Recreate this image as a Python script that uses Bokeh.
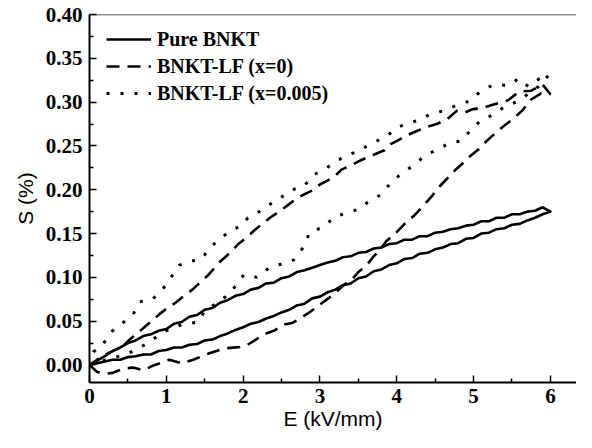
from bokeh.plotting import figure
from bokeh.models import FixedTicker, NumeralTickFormatter, Range1d, Span, Legend, LegendItem
from bokeh.embed import file_html
from bokeh.resources import INLINE

# ---------------- data ----------------
x_ticks = [0, 1, 2, 3, 4, 5, 6]
x_minor = [0.5, 1.5, 2.5, 3.5, 4.5, 5.5]
y_ticks = [0.00, 0.05, 0.10, 0.15, 0.20, 0.25, 0.30, 0.35, 0.40]
y_minor = [-0.025, 0.025, 0.075, 0.125, 0.175, 0.225, 0.275, 0.325, 0.375]

series_names = ["Pure BNKT", "BNKT-LF (x=0)", "BNKT-LF (x=0.005)"]

# Pure BNKT, loading branch
pure_up_E = [0.00, 0.10, 0.20, 0.30, 0.40, 0.50, 0.60, 0.70, 0.80, 0.90, 1.00, 1.10, 1.20, 1.30,
             1.40, 1.50, 1.60, 1.70, 1.80, 1.90, 2.00, 2.10, 2.20, 2.30, 2.40, 2.50, 2.60, 2.70,
             2.80, 2.90, 3.00, 3.10, 3.20, 3.30, 3.40, 3.50, 3.60, 3.70, 3.80, 3.90, 4.00, 4.10,
             4.20, 4.30, 4.40, 4.50, 4.60, 4.70, 4.80, 4.90, 5.00, 5.10, 5.20, 5.30, 5.40, 5.50,
             5.60, 5.70, 5.80, 5.90, 6.00]
pure_up_S = [0.000, 0.002, 0.004, 0.006, 0.006, 0.009, 0.010, 0.012, 0.012, 0.016, 0.017, 0.020,
             0.020, 0.023, 0.024, 0.028, 0.029, 0.033, 0.036, 0.040, 0.043, 0.047, 0.049, 0.053,
             0.056, 0.060, 0.063, 0.068, 0.070, 0.076, 0.078, 0.083, 0.086, 0.091, 0.093, 0.099,
             0.101, 0.107, 0.109, 0.114, 0.116, 0.121, 0.122, 0.127, 0.128, 0.132, 0.134, 0.138,
             0.139, 0.144, 0.145, 0.150, 0.151, 0.155, 0.156, 0.160, 0.161, 0.165, 0.168, 0.172,
             0.175]
# Pure BNKT, unloading branch
pure_down_E = [5.90, 5.80, 5.70, 5.60, 5.50, 5.40, 5.30, 5.20, 5.10, 5.00, 4.90, 4.80, 4.70, 4.60,
               4.50, 4.40, 4.30, 4.20, 4.10, 4.00, 3.90, 3.80, 3.70, 3.60, 3.50, 3.40, 3.30, 3.20,
               3.10, 3.00, 2.90, 2.80, 2.70, 2.60, 2.50, 2.40, 2.30, 2.20, 2.10, 2.00, 1.90, 1.80,
               1.70, 1.60, 1.50, 1.40, 1.30, 1.20, 1.10, 1.00, 0.90, 0.80, 0.70, 0.60, 0.50, 0.40,
               0.30, 0.20, 0.10, 0.00]
pure_down_S = [0.180, 0.176, 0.175, 0.172, 0.172, 0.168, 0.168, 0.164, 0.164, 0.160, 0.159, 0.156,
               0.155, 0.152, 0.151, 0.147, 0.147, 0.143, 0.143, 0.139, 0.138, 0.134, 0.133, 0.129,
               0.128, 0.124, 0.123, 0.119, 0.117, 0.114, 0.111, 0.108, 0.106, 0.101, 0.099, 0.094,
               0.093, 0.088, 0.086, 0.081, 0.079, 0.074, 0.071, 0.065, 0.063, 0.057, 0.055, 0.049,
               0.047, 0.041, 0.039, 0.035, 0.033, 0.028, 0.025, 0.020, 0.016, 0.010, 0.005, 0.000]

# BNKT-LF (x=0)
lf0_up_E = [0.00, 0.10, 0.20, 0.30, 0.45, 0.57, 0.70, 0.82, 0.95, 1.04, 1.20, 1.35, 1.55, 1.76,
            2.02, 2.15, 2.27, 2.40, 2.53, 2.64, 2.76, 2.88, 3.00, 3.11, 3.22, 3.32, 3.42, 3.50,
            3.60, 3.69, 3.78, 3.86, 3.98, 4.09, 4.22, 4.35, 4.46, 4.56, 4.67, 4.78, 4.87, 4.95,
            5.05, 5.14, 5.25, 5.37, 5.50, 5.63, 5.75, 5.88, 6.00]
lf0_up_S = [0.000, -0.008, -0.010, -0.009, -0.004, -0.003, -0.006, -0.001, 0.003, 0.006, 0.002,
            0.006, 0.013, 0.019, 0.021, 0.028, 0.035, 0.039, 0.046, 0.048, 0.054, 0.061, 0.069,
            0.076, 0.084, 0.092, 0.098, 0.106, 0.113, 0.123, 0.131, 0.141, 0.150, 0.160, 0.170,
            0.182, 0.193, 0.204, 0.214, 0.224, 0.231, 0.238, 0.245, 0.253, 0.262, 0.271, 0.280,
            0.290, 0.303, 0.310, 0.309]
lf0_down_E = [5.90, 5.75, 5.59, 5.45, 5.25, 5.10, 4.99, 4.88, 4.78, 4.65, 4.52, 4.40, 4.26, 4.13,
              4.01, 3.92, 3.84, 3.70, 3.54, 3.41, 3.28, 3.20, 3.11, 3.00, 2.92, 2.80, 2.68, 2.56,
              2.45, 2.35, 2.25, 2.15, 2.04, 1.95, 1.87, 1.78, 1.70, 1.62, 1.55, 1.45, 1.34, 1.23,
              1.12, 1.00, 0.91, 0.82, 0.74, 0.66, 0.59, 0.51, 0.44, 0.33, 0.23, 0.10, 0.00]
lf0_down_S = [0.320, 0.313, 0.312, 0.302, 0.297, 0.293, 0.292, 0.288, 0.290, 0.280, 0.275, 0.272,
              0.267, 0.262, 0.256, 0.252, 0.245, 0.240, 0.234, 0.228, 0.223, 0.216, 0.211, 0.206,
              0.200, 0.195, 0.189, 0.181, 0.174, 0.168, 0.161, 0.154, 0.145, 0.139, 0.132, 0.124,
              0.118, 0.110, 0.103, 0.095, 0.086, 0.079, 0.071, 0.064, 0.058, 0.051, 0.045, 0.039,
              0.034, 0.028, 0.022, 0.017, 0.013, 0.006, 0.000]

# BNKT-LF (x=0.005)
lf5_up_E = [0.00, 0.15, 0.30, 0.50, 0.72, 0.97, 1.20, 1.42, 1.50, 1.65, 1.82, 2.01, 2.18, 2.34,
            2.49, 2.66, 2.79, 2.87, 3.04, 3.19, 3.36, 3.51, 3.64, 3.81, 3.92, 4.07, 4.22, 4.37,
            4.51, 4.68, 4.85, 4.98, 5.11, 5.24, 5.41, 5.55, 5.69, 5.85, 5.98]
lf5_up_S = [0.000, 0.004, 0.008, 0.013, 0.023, 0.038, 0.046, 0.049, 0.062, 0.070, 0.081, 0.103,
            0.100, 0.111, 0.115, 0.120, 0.135, 0.152, 0.157, 0.169, 0.174, 0.178, 0.187, 0.195,
            0.208, 0.219, 0.228, 0.239, 0.245, 0.253, 0.256, 0.270, 0.280, 0.285, 0.295, 0.300,
            0.308, 0.318, 0.331]
lf5_down_E = [5.86, 5.71, 5.59, 5.45, 5.26, 5.09, 4.94, 4.77, 4.60, 4.43, 4.28, 4.14, 4.01, 3.88,
              3.75, 3.63, 3.52, 3.38, 3.24, 3.09, 2.92, 2.79, 2.64, 2.49, 2.36, 2.23, 2.06, 2.00,
              1.83, 1.70, 1.57, 1.46, 1.30, 1.17, 1.06, 0.95, 0.82, 0.65, 0.57, 0.42, 0.27, 0.16,
              0.05, 0.00]
lf5_down_S = [0.327, 0.318, 0.327, 0.319, 0.320, 0.312, 0.301, 0.296, 0.290, 0.286, 0.279, 0.276,
              0.271, 0.262, 0.256, 0.251, 0.245, 0.240, 0.234, 0.225, 0.217, 0.204, 0.200, 0.191,
              0.184, 0.176, 0.168, 0.160, 0.153, 0.144, 0.134, 0.121, 0.118, 0.114, 0.100, 0.086,
              0.075, 0.072, 0.058, 0.047, 0.037, 0.021, 0.015, 0.000]

# ---------------- figure ----------------
p = figure(width=576, height=432, output_backend="svg", toolbar_location=None,
           x_range=Range1d(0, 6.34), y_range=Range1d(-0.02, 0.40),
           min_border_left=89, min_border_right=0, min_border_top=14, min_border_bottom=50,
           background_fill_color="white", border_fill_color="white")
p.outline_line_color = None
p.grid.visible = False

r_pure = p.line(pure_up_E + pure_down_E, pure_up_S + pure_down_S,
                line_color="black", line_width=2.6, line_join="round")
r_lf0 = p.line(lf0_up_E + lf0_down_E, lf0_up_S + lf0_down_S,
               line_color="black", line_width=2.6, line_dash="13 8")
r_lf5 = p.line(lf5_up_E + lf5_down_E, lf5_up_S + lf5_down_S,
               line_color="black", line_width=3, line_dash="3 11")

p.add_layout(Span(location=0.40, dimension="width", line_color="#222222", line_width=1.5))

for ax in (p.xaxis[0], p.yaxis[0]):
    ax.axis_line_width = 2
    ax.axis_line_color = "black"
    ax.major_tick_line_width = 1.5
    ax.minor_tick_line_width = 1.5
    ax.major_tick_in = 7
    ax.major_tick_out = 0
    ax.minor_tick_in = 4
    ax.minor_tick_out = 0
    ax.major_label_text_font = "Liberation Serif"
    ax.major_label_text_font_style = "bold"
    ax.major_label_text_font_size = "21px"
    ax.major_label_text_color = "black"
    ax.axis_label_text_font = "Liberation Sans"
    ax.axis_label_text_font_style = "normal"
    ax.axis_label_text_font_size = "21px"
    ax.axis_label_text_color = "black"

p.xaxis.ticker = FixedTicker(ticks=x_ticks, minor_ticks=x_minor)
p.yaxis.ticker = FixedTicker(ticks=y_ticks, minor_ticks=y_minor)
p.yaxis.formatter = NumeralTickFormatter(format="0.00")
p.xaxis.axis_label = "E (kV/mm)"
p.yaxis.axis_label = "S (%)"
p.xaxis.major_label_standoff = 6
p.yaxis.major_label_standoff = 7
p.xaxis.axis_label_standoff = 1
p.yaxis.axis_label_standoff = 6

legend = Legend(items=[LegendItem(label=series_names[0], renderers=[r_pure]),
                       LegendItem(label=series_names[1], renderers=[r_lf0]),
                       LegendItem(label=series_names[2], renderers=[r_lf5])],
                location=(17, 276), padding=0, margin=0, spacing=1,
                glyph_width=45, glyph_height=26, label_height=26, label_standoff=6,
                border_line_color=None, background_fill_alpha=0,
                label_text_font="Liberation Serif", label_text_font_style="bold",
                label_text_font_size="20px", label_text_color="black")
p.add_layout(legend)

open("out.html", "w").write(file_html(p, INLINE))
